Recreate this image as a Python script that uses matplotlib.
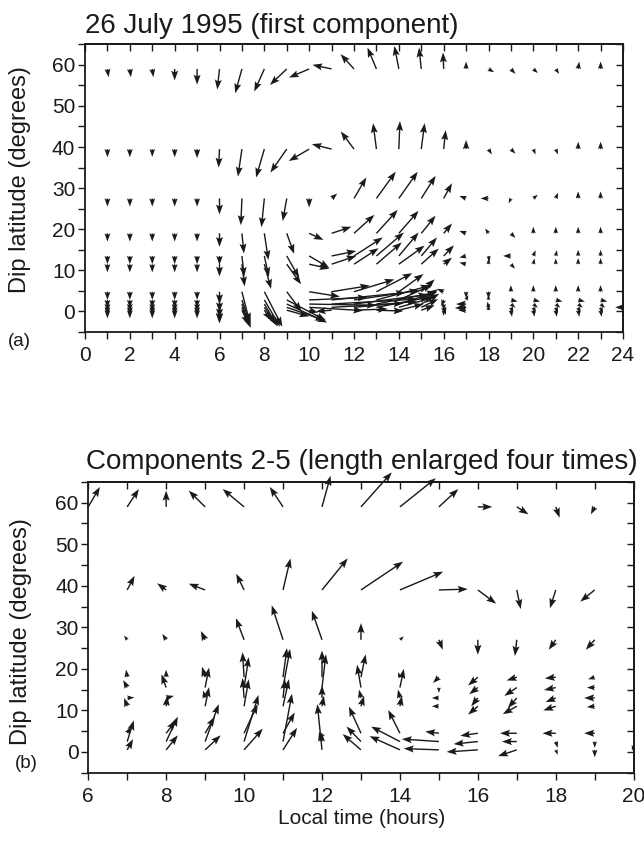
import numpy as np
import matplotlib
matplotlib.use('Agg')
import matplotlib.pyplot as plt

plt.rcParams['font.family'] = ['Liberation Sans', 'DejaVu Sans']
ink = '#1a1a1a'

# ---------------- panel (a): first component ----------------
top_hours = list(range(1, 24))
top_lats = [59, 39.5, 27.5, 19, 13.5, 11.5, 4.8, 2.8, 1.8, 1.0, 0.3]

u59 = [0.05, 0.05, 0.05, 0, 0, -0.1, -0.3, -0.45, -0.75, -0.9, -0.85, -0.6, -0.4, -0.2, -0.1, -0.03, 0, 0.25, 0.2, 0.2, 0.15, 0.05, 0]
v59 = [-2.0, -2.0, -2.0, -2.8, -3.8, -5.0, -5.9, -5.5, -3.9, -2.1, 1.0, 3.6, 5.2, 5.6, 5.2, 4.0, 1.8, -0.8, -1.2, -1.0, -1.2, 1.8, 1.8]
u39 = [0, 0, 0, 0, 0, -0.04, -0.18, -0.37, -0.73, -0.91, -0.88, -0.59, -0.15, 0.05, 0.15, 0.09, 0, 0.15, 0.2, 0.1, 0.1, 0, 0]
v39 = [-2.0, -2.0, -1.9, -2.0, -2.2, -4.5, -6.7, -6.9, -5.7, -2.9, 1.2, 4.3, 6.3, 6.8, 6.3, 4.6, 2.2, -1.3, -1.1, -1.3, -1.3, 1.8, 1.8]
u27 = [0, 0, 0, 0, 0, 0, -0.05, -0.13, -0.18, 0, 0.25, 0.55, 0.86, 0.84, 0.64, 0.37, -0.3, -0.35, -0.1, 0.2, 0.1, 0, 0]
v27 = [-2.0, -2.0, -2.0, -2.0, -2.0, -3.9, -6.5, -7.0, -5.5, -2.2, 1.2, 5.1, 6.5, 6.5, 5.5, 3.7, 0.6, 0, -1.2, 0.9, 1.4, 1.7, 1.7]
u19 = [0, 0, 0, 0, 0, 0, 0.09, 0.18, 0.33, 0.64, 0.88, 0.91, 0.95, 0.88, 0.64, 0.37, -0.3, -0.15, 0.2, 0, 0, 0, 0]
v19 = [-2.0, -2.0, -2.0, -2.0, -2.0, -3.3, -4.9, -6.5, -5.0, -1.6, 1.6, 4.5, 5.7, 5.5, 4.3, 2.4, 0.6, 1.2, -1.1, 1.6, 1.6, 1.6, 1.6]
u13 = [0, 0, 0, 0, 0, 0, 0.1, 0.2, 0.55, 0.9, 1.1, 1.28, 1.22, 0.88, 0.7, 0.46, -0.3, 0.05, -0.35, 0.1, 0.05, 0, 0]
v13 = [-2.0, -2.0, -2.0, -2.0, -2.0, -2.2, -5.1, -5.1, -5.3, -2.9, 1.2, 4.5, 5.7, 5.7, 4.5, 2.6, -0.4, -1.4, 0, 1.4, 1.4, 1.5, 1.5]
u11 = [0, 0, 0, 0, 0, 0, 0.12, 0.3, 0.64, 0.9, 1.1, 1.1, 1.13, 1.15, 0.78, 0.37, -0.3, 0, 0.18, 0.05, 0, 0, 0]
v11 = [-2.0, -2.0, -2.0, -2.0, -2.0, -3.0, -5.4, -6.0, -4.9, -1.1, 2.0, 3.9, 5.3, 4.5, 3.8, 1.6, 0.4, 1.4, -1.1, 1.4, 1.4, 1.5, 1.5]
u5 = [0, 0, 0, 0, 0, 0, 0.35, 0.8, 0.66, 1.37, 1.7, 1.8, 1.6, 1.1, 0.6, -0.3, 0, 0, 0, 0, 0, 0, 0]
v5 = [-2.0, -2.0, -2.0, -2.0, -2.0, -3.0, -7.5, -8.5, -4.8, -1.2, 1.5, 3.0, 4.5, 4.3, 3.0, 0.7, -1.6, -1.7, 1.6, 1.6, 1.6, 1.6, 1.6]
u3 = [0, 0, 0, 0, 0, 0, 0.38, 0.7, 1.75, 2.6, 3.3, 2.9, 2.4, 1.5, 0.75, -0.1, 0.1, 0, 0.3, 0.3, 0.3, 0.3, 0.3]
v3 = [-2.0, -2.0, -2.0, -2.0, -2.0, -3.0, -6.0, -6.5, -5.0, 0.6, 1.8, 2.3, 3.5, 3.7, 2.6, -1.6, 1.2, 1.3, -0.4, -0.4, -0.4, -0.4, -0.4]
u2 = [0, 0, 0, 0, 0, 0, 0.35, 0.6, 1.8, 3.0, 3.8, 3.3, 2.7, 1.7, 0.8, 0, -0.45, 0, 0.2, 0.2, 0.2, 0.2, 0.2]
v2 = [-2.0, -2.0, -2.0, -2.0, -2.0, -3.5, -5.5, -5.5, -4.5, -0.3, 1.2, 2.3, 2.9, 3.0, 2.5, -1.6, 0, -1.2, -0.9, -0.9, -0.9, -0.9, -0.9]
u1 = [0, 0, 0, 0, 0, 0, 0.4, 0.5, 1.7, 2.4, 3.2, 2.8, 2.4, 1.6, 0.75, 0.1, -0.5, -0.05, 0.1, 0.1, 0.1, 0.1, 0.1]
v1 = [-2.0, -2.0, -2.0, -2.0, -2.0, -3.8, -5.0, -4.0, -3.2, -0.8, 1.0, 1.5, 2.5, 2.5, 2.0, -1.8, -0.2, 1.4, -1.4, -1.4, -1.4, -1.4, -1.4]
u0 = [0, 0, 0, 0, 0, 0, 0.3, 0.3, 1.0, 0.4, -0.7, 1.5, 1.2, 1.1, 0.6, 0, -0.35, 0, 0.05, 0.05, 0.05, 0.05, 0.05]
v0 = [-2.0, -2.0, -2.0, -2.0, -2.0, -3.2, -3.5, -2.5, -1.5, -0.6, -0.3, 0.3, -0.2, 1.5, 1.2, -1.4, 0, 1.4, -1.6, -1.6, -1.6, -1.6, -1.6]
top_u = [u59, u39, u27, u19, u13, u11, u5, u3, u2, u1, u0]
top_v = [v59, v39, v27, v19, v13, v11, v5, v3, v2, v1, v0]
# arrow sitting on the right frame (24 h)
top_edge_h, top_edge_lat, top_edge_u, top_edge_v = [24], [1.0], [-0.35], [0.0]

# ---------------- panel (b): components 2-5 ----------------
bot_hours = list(range(7, 20))
bot_lats = [59, 39, 27, 18, 15.5, 13, 11, 4.5, 2.5, 0.5]

b59_u = [0.3, 0, -0.42, -0.55, -0.34, 0.22, 0.79, 0.92, 0.5, 0.37, 0.3, 0.1, -0.1]
b59_v = [4.3, 3.9, 3.9, 4.3, 4.8, 7.5, 8.3, 6.9, 4.3, 0, -1.8, -2.6, -1.8]
b39_u = [0.19, -0.23, -0.42, -0.2, 0.19, 0.66, 1.08, 1.11, 0.74, 0.47, 0.1, -0.15, -0.37]
b39_v = [3.4, 1.6, 1.5, 3.9, 7.6, 7.6, 6.8, 4.4, 0.2, -3.3, -4.6, -4.4, -2.8]
b27_u = [-0.08, -0.1, -0.11, -0.21, -0.29, -0.26, 0, 0.1, 0.1, 0, -0.05, -0.18, -0.23]
b27_v = [1.0, 1.4, 2.1, 5.2, 8.3, 7.0, 4.0, 0.8, -2.4, -3.6, -3.9, -2.4, -2.4]
b18_u = [-0.03, 0, -0.08, -0.04, 0.1, 0, 0.12, -0.05, -0.15, -0.25, -0.26, -0.28, -0.17]
b18_v = [1.8, 1.8, 2.5, 6.0, 7.0, 6.4, 5.5, 1.2, -1.4, -2.0, -0.8, -0.3, -0.5]
b15_u = [-0.1, -0.12, 0.1, 0.12, 0.18, 0.1, -0.1, 0.1, 0, -0.22, -0.32, -0.3, -0.2]
b15_v = [1.8, 3.2, 4.8, 7.3, 9.3, 8.0, 5.5, 4.5, -1.3, -1.6, -2.0, -0.6, 0]
b13_u = [0.18, 0.2, -0.05, -0.04, 0.05, 0, -0.05, -0.05, -0.18, -0.17, -0.23, -0.26, -0.27]
b13_v = [0.1, 0.5, 1.8, 4.8, 4.5, 3.0, 2.0, 2.0, 0, -2.0, -2.4, -1.0, 0]
b11_u = [-0.08, 0.03, 0.1, 0.12, 0.15, 0.05, 0.08, 0.05, -0.18, -0.25, -0.36, -0.32, -0.2]
b11_v = [2.0, 2.5, 4.6, 6.5, 6.5, 2.5, 2.5, 2.5, 0, -2.0, -1.9, -1.0, -0.2]
b4_u = [0.1, 0.25, 0.25, 0.35, 0.3, -0.1, -0.31, -0.3, -0.35, -0.45, -0.43, -0.34, -0.27]
b4_v = [1.5, 3.0, 4.0, 7.0, 5.0, -2.0, 6.4, 5.6, 0.4, -0.6, 0, 0, 0]
b2_u = [0.17, 0.3, 0.35, 0.37, 0.23, 0, -0.37, -0.74, -0.95, -0.62, -0.38, 0.05, 0]
b2_v = [5.1, 6.0, 9.0, 11.2, 11.5, 2.0, 3.6, 3.6, 0.6, -0.6, 0, -1.5, -1.5]
b0_u = [0.15, 0.3, 0.4, 0.48, 0.36, -0.12, -0.47, -0.78, -0.9, -0.8, -0.48, 0.05, 0]
b0_v = [2.6, 3.5, 3.5, 5.1, 5.3, 11.0, 3.8, 3.3, 0.3, -0.5, -1.5, -1.2, -1.8]
bot_u = [b59_u, b39_u, b27_u, b18_u, b15_u, b13_u, b11_u, b4_u, b2_u, b0_u]
bot_v = [b59_v, b39_v, b27_v, b18_v, b15_v, b13_v, b11_v, b4_v, b2_v, b0_v]
bot_edge_h, bot_edge_lat, bot_edge_u, bot_edge_v = [6, 20], [59, 0.5], [0.3, -0.05], [4.8, 1.2]


def arrows(ax, hours, lats, us, vs, eh, el, eu, ev):
    X, Y, U, V = [], [], [], []
    for lat, u, v in zip(lats, us, vs):
        for h, du, dv in zip(hours, u, v):
            X.append(h); Y.append(lat); U.append(du); V.append(dv)
    X += eh; Y += el; U += eu; V += ev
    X, Y, U, V = map(np.array, (X, Y, U, V))
    keep = (U != 0) | (V != 0)
    q = ax.quiver(X[keep], Y[keep], U[keep], V[keep], angles='xy', scale_units='xy',
                  scale=1, color=ink, width=0.0026, headwidth=5, headlength=7,
                  headaxislength=6, minshaft=1, pivot='tail', zorder=3)
    q.set_clip_on(False)


def frame(ax, x0, x1):
    ax.set_xlim(x0, x1)
    ax.set_ylim(-5, 65)
    ax.set_xticks(range(x0, x1 + 1, 2))
    ax.set_xticks(range(x0 + 1, x1, 2), minor=True)
    ax.set_yticks(range(0, 61, 10))
    ax.set_yticks(range(-5, 66, 10), minor=True)
    ax.tick_params(which='both', direction='out', length=5, width=1, color=ink,
                   labelsize=15, labelcolor=ink)
    ax.tick_params(axis='x', pad=5)
    ax.tick_params(axis='y', pad=2)
    for s in ax.spines.values():
        s.set_linewidth(1.3)
        s.set_color(ink)
    top = ax.secondary_xaxis('top')
    top.set_xticks(range(x0, x1 + 1))
    top.tick_params(direction='in', length=5, width=1, color=ink, labeltop=False)
    right = ax.secondary_yaxis('right')
    right.set_yticks(range(-5, 66, 5))
    right.tick_params(direction='in', length=5, width=1, color=ink, labelright=False)
    for s in list(top.spines.values()) + list(right.spines.values()):
        s.set_linewidth(1.3)
        s.set_color(ink)


fig = plt.figure(figsize=(6.44, 8.42), dpi=100)

ax1 = fig.add_axes([0.132, 0.6057, 0.8354, 0.3417])
frame(ax1, 0, 24)
arrows(ax1, top_hours, top_lats, top_u, top_v, top_edge_h, top_edge_lat, top_edge_u, top_edge_v)
ax1.set_title('26 July 1995 (first component)', loc='left', fontsize=20, color=ink, pad=8)

ax2 = fig.add_axes([0.137, 0.0823, 0.847, 0.3453])
frame(ax2, 6, 20)
arrows(ax2, bot_hours, bot_lats, bot_u, bot_v, bot_edge_h, bot_edge_lat, bot_edge_u, bot_edge_v)
ax2.set_title('Components 2-5 (length enlarged four times)', loc='left', fontsize=20,
              color=ink, pad=9, x=-0.005)

fig.text(0.031, 0.787, 'Dip latitude (degrees)', rotation=90, ha='center', va='center',
         fontsize=17, color=ink)
fig.text(0.032, 1 - 632 / 842, 'Dip latitude (degrees)', rotation=90, ha='center',
         va='center', fontsize=17, color=ink)
fig.text(0.012, 1 - 342 / 842, '(a)', ha='left', va='center', fontsize=13.5, color=ink)
fig.text(0.023, 1 - 764 / 842, '(b)', ha='left', va='center', fontsize=13.5, color=ink)
fig.text(0.561, 1 - 818 / 842, 'Local time (hours)', ha='center', va='center',
         fontsize=15, color=ink)

fig.savefig('out.png', dpi=100)
